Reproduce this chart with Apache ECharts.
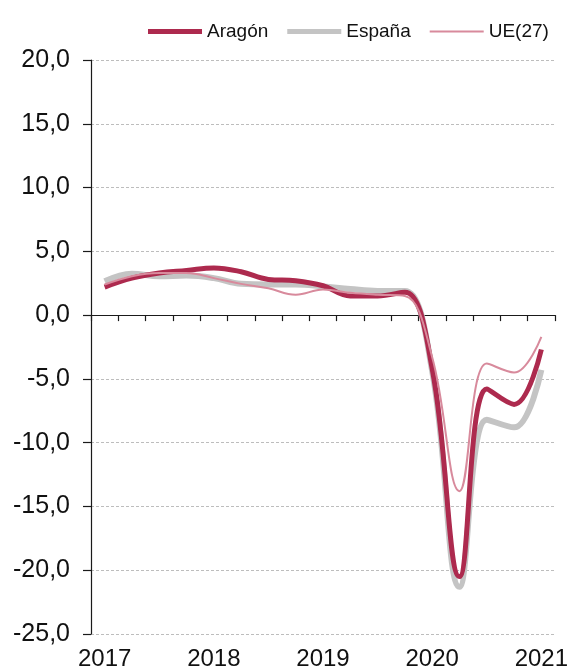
<!DOCTYPE html>
<html>
<head>
<meta charset="utf-8">
<script src="https://cdn.jsdelivr.net/npm/echarts@6/dist/echarts.min.js"></script>
<style>
  html, body { margin: 0; padding: 0; background: #ffffff; }
  #chart { width: 568px; height: 670px; }
</style>
</head>
<body>
<div id="chart"></div>
<script>
// Quarterly categories 2017 T1 .. 2021 T1
const categories = ['2017T1','2017T2','2017T3','2017T4','2018T1','2018T2','2018T3','2018T4',
  '2019T1','2019T2','2019T3','2019T4','2020T1','2020T2','2020T3','2020T4','2021T1'];
const yearLabels = ['2017','2018','2019','2020','2021'];
const seriesNames = ['Aragón','España','UE(27)'];
const aragon = [2.2, 2.9, 3.3, 3.5, 3.7, 3.4, 2.8, 2.7, 2.3, 1.5, 1.5, 1.8, -4.2, -20.5, -5.8, -7.0, -2.7];
const espana = [2.65, 3.25, 3.05, 3.1, 2.9, 2.45, 2.4, 2.4, 2.25, 2.05, 1.9, 1.9, -4.4, -21.3, -8.2, -8.8, -4.3];
const ue27   = [2.4, 3.05, 3.3, 3.3, 2.9, 2.45, 2.1, 1.6, 2.0, 1.75, 1.6, 1.5, -3.3, -13.8, -3.8, -4.5, -1.7];
const yMin = -25, yMax = 20, yStep = 5;

const chart = echarts.init(document.getElementById('chart'), null, { renderer: 'canvas' });
const FONT = 'Liberation Sans, Arial, sans-serif';
const C_AR = '#AD2A4E', C_ES = '#C4C4C4', C_UE = '#D88A9C';
// legend icons: 54x14 box, line of given thickness centred
const ICON_THICK = 'path://M0,0L0,0M0,4.5H54V9.5H0ZM54,14L54,14';
const ICON_THIN = 'path://M0,0L0,0M0,6H54V8H0ZM54,14L54,14';

chart.setOption({
  animation: false,
  backgroundColor: '#ffffff',
  legend: {
    data: [
      { name: seriesNames[0], icon: ICON_THICK },
      { name: seriesNames[1], icon: ICON_THICK },
      { name: seriesNames[2], icon: ICON_THIN }
    ],
    left: 143, top: 17,
    itemWidth: 54, itemHeight: 14, itemGap: 19,
    symbolKeepAspect: false,
    textStyle: { fontFamily: FONT, fontSize: 19, color: '#111111' }
  },
  grid: { left: 91, right: 13, top: 60, bottom: 36, containLabel: false, outerBoundsMode: 'none' },
  xAxis: [
    {
      type: 'category', data: categories, boundaryGap: true,
      axisLine: { onZero: true, lineStyle: { color: '#1a1a1a', width: 1.2 } },
      axisTick: { show: true, interval: 0, length: 6, inside: false, lineStyle: { color: '#1a1a1a', width: 1.2 } },
      axisLabel: { show: false, interval: 0 },
      splitLine: { show: false }
    },
    {
      type: 'category', data: categories, boundaryGap: true, position: 'bottom',
      axisLine: { show: false, onZero: false },
      axisTick: { show: false },
      axisLabel: {
        interval: 3, margin: 13,
        fontFamily: FONT, fontSize: 24, color: '#111111',
        formatter: (v, i) => (i % 4 === 0 ? yearLabels[i / 4] : '')
      },
      splitLine: { show: false }
    }
  ],
  yAxis: {
    type: 'value', min: yMin, max: yMax, interval: yStep,
    axisLine: { show: true, onZero: false, lineStyle: { color: '#1a1a1a', width: 1.2 } },
    axisTick: { show: true, length: 8, lineStyle: { color: '#1a1a1a', width: 1.2 } },
    axisLabel: {
      margin: 21, fontFamily: FONT, fontSize: 25, color: '#111111',
      formatter: v => v.toFixed(1).replace('.', ',')
    },
    splitLine: { show: true, lineStyle: { color: '#BDBDBD', width: 1, type: [3, 2] } }
  },
  series: [
    {
      name: seriesNames[0], type: 'line', data: aragon, xAxisIndex: 0,
      smooth: 0.4, showSymbol: false, symbol: 'none', z: 3,
      lineStyle: { color: C_AR, width: 5 }, itemStyle: { color: C_AR }
    },
    {
      name: seriesNames[1], type: 'line', data: espana, xAxisIndex: 0,
      smooth: 0.4, showSymbol: false, symbol: 'none', z: 2,
      lineStyle: { color: C_ES, width: 6 }, itemStyle: { color: C_ES }
    },
    {
      name: seriesNames[2], type: 'line', data: ue27, xAxisIndex: 0,
      smooth: 0.4, showSymbol: false, symbol: 'none', z: 4,
      lineStyle: { color: C_UE, width: 2 }, itemStyle: { color: C_UE }
    }
  ]
});
</script>
</body>
</html>
